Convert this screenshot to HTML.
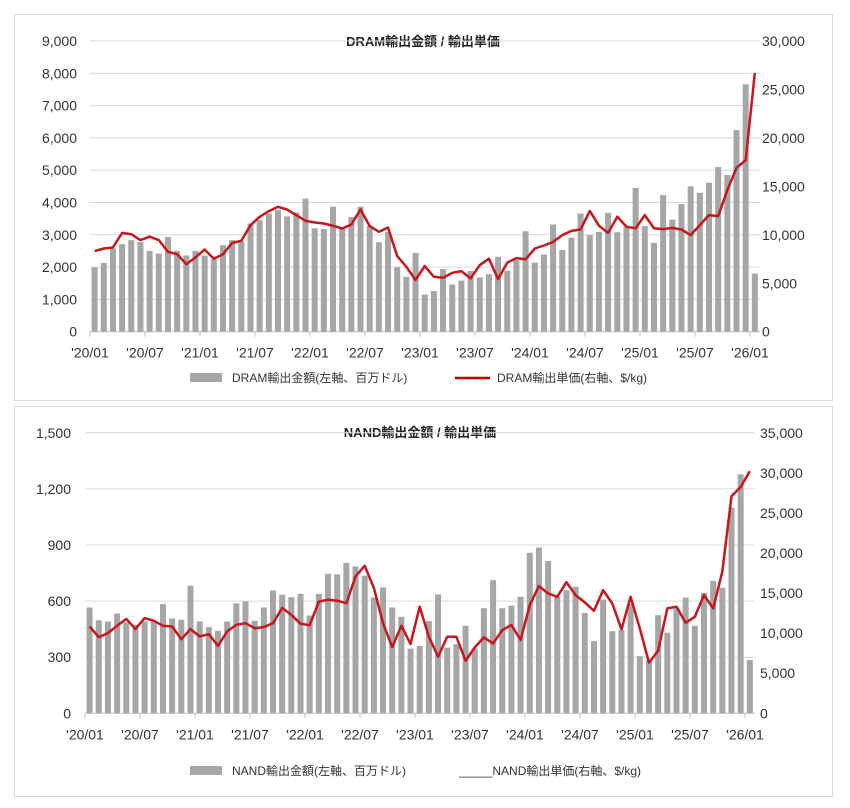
<!DOCTYPE html>
<html><head><meta charset="utf-8">
<style>
html,body{margin:0;padding:0;background:#fff;}
svg{display:block;font-family:"Liberation Sans","Noto Sans CJK JP",sans-serif;}
</style></head>
<body>
<svg id="s" width="850" height="808" viewBox="0 0 850 808" xmlns="http://www.w3.org/2000/svg">
<rect x="14.5" y="14.5" width="818" height="386" fill="#fff" stroke="#d9d9d9"/>
<rect x="14.5" y="406.5" width="818" height="390" fill="#fff" stroke="#d9d9d9"/>
<text x="423" y="46" text-anchor="middle" font-size="13" font-weight="bold" fill="#222">DRAM輸出金額 / 輸出単価</text>
<text x="420" y="437" text-anchor="middle" font-size="13" font-weight="bold" fill="#222">NAND輸出金額 / 輸出単価</text>
<g id="g"></g>
<rect x="190" y="373" width="32" height="9" fill="#a6a6a6"/>
<text x="232" y="382" font-size="12" fill="#333">DRAM輸出金額(左軸、百万ドル)</text>
<line x1="455" y1="378" x2="490" y2="378" stroke="#c00000" stroke-width="2.5"/>
<text x="497" y="382" font-size="12" fill="#333">DRAM輸出単価(右軸、$/kg)</text>
<rect x="190" y="766" width="32" height="9" fill="#a6a6a6"/>
<text x="232" y="775" font-size="12" fill="#333">NAND輸出金額(左軸、百万ドル)</text>
<text x="459" y="775" font-size="12" fill="#333">_____NAND輸出単価(右軸、$/kg)</text>
</svg>
<script>
var NS="http://www.w3.org/2000/svg",G=document.getElementById("g");
function el(t,a,txt){var e=document.createElementNS(NS,t);for(var k in a)e.setAttribute(k,a[k]);if(txt!==undefined)e.textContent=txt;G.appendChild(e);return e;}
function fmt(n){return n.toLocaleString("en-US");}
var dB=[1990,2130,2580,2710,2835,2780,2500,2420,2930,2500,2360,2500,2360,2240,2680,2835,2800,3350,3450,3660,3760,3570,3690,4120,3200,3180,3870,3230,3550,3870,3270,2770,3090,2000,1700,2440,1150,1260,1940,1460,1580,1880,1680,1780,2320,1890,2220,3110,2140,2390,3320,2530,2910,3660,2990,3090,3680,3080,3250,4450,3270,2750,4230,3470,3950,4500,4300,4610,5100,4850,6240,7660,1800];
var dL=[2495,2577,2608,3060,3020,2835,2940,2835,2475,2400,2090,2300,2546,2258,2400,2750,2815,3300,3556,3730,3866,3780,3608,3433,3381,3350,3278,3196,3320,3783,3268,3093,3227,2340,2010,1600,2030,1700,1670,1825,1876,1650,2060,2260,1630,2140,2280,2240,2577,2670,2780,2990,3120,3165,3740,3280,3060,3560,3250,3200,3610,3200,3175,3215,3165,2990,3300,3610,3580,4380,5070,5310,8010];
var nB=[566,498,491,534,486,473,491,491,584,507,500,682,491,461,441,491,588,598,495,566,657,634,621,639,523,639,746,743,804,786,736,620,673,566,516,346,361,493,636,351,370,468,347,562,712,562,576,623,858,886,815,623,659,677,537,386,608,439,445,587,306,285,525,431,561,619,468,644,708,671,1100,1278,285];
var nL=[464,407,429,468,505,450,509,495,468,464,396,450,411,423,361,438,473,482,455,461,482,563,527,479,471,598,607,602,589,732,789,670,482,354,468,371,570,409,303,409,409,281,352,406,374,445,472,392,579,680,641,623,701,632,593,548,659,587,449,623,454,271,335,561,570,484,516,632,561,757,1161,1210,1294];
var labs=["'20/01","'20/07","'21/01","'21/07","'22/01","'22/07","'23/01","'23/07","'24/01","'24/07","'25/01","'25/07","'26/01"];
function chart(o){
  var sc=o.per;
  for(var i=0;i<=o.n;i++){var v=i*o.step,y=o.y0-v*sc;
    el("line",{x1:o.x0,x2:o.x0+670,y1:y,y2:y,stroke:i==0?"#bfbfbf":"#d9d9d9","stroke-width":1});
    el("text",{x:o.lx,y:y+5,"text-anchor":"end","font-size":14,fill:"#333"},fmt(v));}
  for(var j=0;j<=o.rn;j++){var rv=j*o.rstep,y2=o.y0-rv*o.rf*sc;
    el("text",{x:o.rx,y:y2+5,"font-size":14,fill:"#333"},fmt(rv));}
  for(var k=0;k<13;k++){var x=o.x0+55*k;
    el("line",{x1:x,x2:x,y1:o.y0,y2:o.y0+5,stroke:"#bfbfbf"});
    el("text",{x:x,y:o.y0+26,"text-anchor":"middle","font-size":14,fill:"#333"},labs[k]);}
  var pts=[];
  for(var i=0;i<73;i++){var cx=o.x0+4.6+9.17*i,h=o.B[i]*sc;
    el("rect",{x:cx-3,y:o.y0-h,width:6,height:h,fill:"#a6a6a6"});
    pts.push(cx.toFixed(1)+","+(o.y0-o.L[i]*sc).toFixed(1));}
  el("polyline",{points:pts.join(" "),fill:"none",stroke:"#c8161d","stroke-width":2.5,"stroke-linejoin":"round"});
}
chart({x0:90,y0:331.7,per:32.3/1000,step:1000,n:9,lx:77,rx:762,rn:6,rstep:5000,rf:0.3,B:dB,L:dL});
chart({x0:85,y0:713.3,per:56.1/300,step:300,n:5,lx:71,rx:760,rn:7,rstep:5000,rf:1500/35000,B:nB,L:nL});
</script>
</body></html>
